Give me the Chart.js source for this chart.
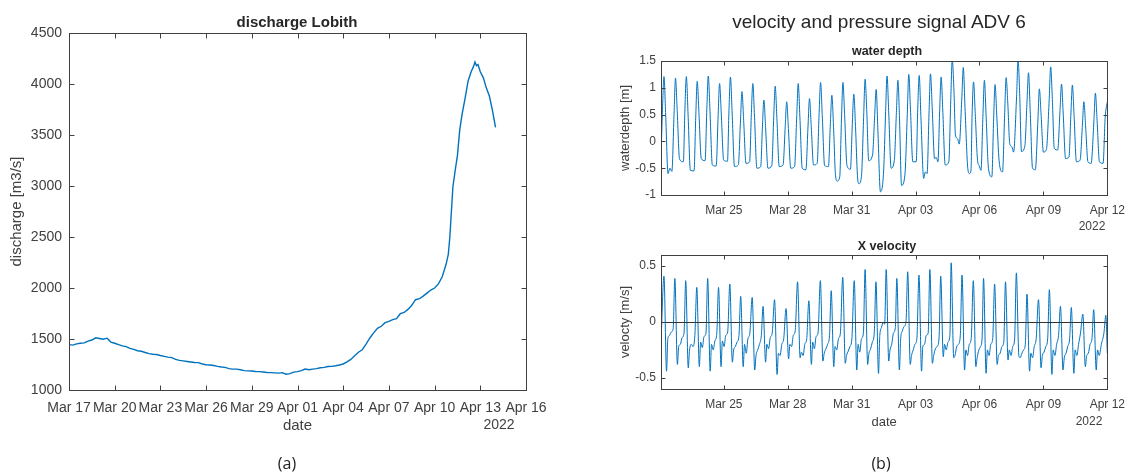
<!DOCTYPE html>
<html><head><meta charset="utf-8">
<script src="https://cdn.jsdelivr.net/npm/chart.js@4.4.1/dist/chart.umd.min.js"></script>
<style>
html,body{margin:0;padding:0;background:#fff;}
#wrap{position:relative;width:1133px;height:473px;overflow:hidden;font-family:'Liberation Sans',Arial,Helvetica,sans-serif;color:#262626;}
canvas{position:absolute;}
.t{position:absolute;white-space:nowrap;transform:translate(-50%,-50%);line-height:1;}
</style></head><body>
<div id="wrap">
<canvas id="c1" width="560" height="473" style="left:0;top:0"></canvas>
<canvas id="c2" width="553" height="235" style="left:580px;top:0"></canvas>
<canvas id="c3" width="553" height="238" style="left:580px;top:235px"></canvas>
<div class="t" style="left:297px;top:21px;font-weight:bold;font-size:15px;">discharge Lobith</div>
<div class="t" style="left:879px;top:21px;font-size:19px;">velocity and pressure signal ADV 6</div>
<div class="t" style="left:887px;top:51px;font-weight:bold;font-size:12.5px;">water depth</div>
<div class="t" style="left:887px;top:246px;font-weight:bold;font-size:12.5px;">X velocity</div>
<div class="t" style="left:499px;top:424px;font-size:14px;color:#404040;">2022</div>
<div class="t" style="left:1092px;top:226px;font-size:12px;color:#404040;">2022</div>
<div class="t" style="left:1089px;top:421px;font-size:12px;color:#404040;">2022</div>
<div class="t" style="left:287px;top:463px;font-size:16px;font-family:'Open Sans','Noto Sans',sans-serif;color:#222;">(a)</div>
<div class="t" style="left:881px;top:463px;font-size:16px;font-family:'Open Sans','Noto Sans',sans-serif;color:#222;">(b)</div>
</div>
<script>
// ---------- data ----------
// discharge Lobith: [days since Mar 17 2022, discharge m3/s]
const dischargeData = [
[0,1445],[0.25,1440],[0.5,1452],[0.75,1458],[1,1462],[1.25,1480],[1.5,1490],[1.75,1512],[2,1505],[2.25,1498],[2.5,1508],[2.75,1470],
[3,1458],[3.25,1445],[3.5,1432],[3.75,1425],[4,1408],[4.25,1398],[4.5,1385],[4.75,1380],[5,1368],[5.25,1356],[5.5,1350],[5.75,1348],
[6,1338],[6.25,1330],[6.5,1322],[6.75,1318],[7,1300],[7.25,1290],[7.5,1285],[7.75,1280],[8,1275],[8.25,1270],[8.5,1268],[8.75,1255],
[9,1248],[9.25,1245],[9.5,1240],[9.75,1232],[10,1225],[10.25,1222],[10.5,1210],[10.75,1205],[11,1205],[11.25,1198],[11.5,1190],[11.75,1188],
[12,1186],[12.25,1182],[12.5,1180],[12.75,1176],[13,1172],[13.25,1170],[13.5,1168],[13.75,1165],[14,1170],[14.25,1155],[14.5,1160],[14.75,1175],
[15,1180],[15.25,1190],[15.5,1205],[15.75,1198],[16,1205],[16.25,1210],[16.5,1218],[16.75,1222],[17,1230],[17.25,1232],[17.5,1238],[17.75,1245],
[18,1255],[18.25,1275],[18.5,1300],[18.75,1335],[19,1370],[19.25,1395],[19.5,1450],[19.75,1510],[20,1560],[20.25,1605],[20.5,1625],[20.75,1660],
[21,1672],[21.25,1690],[21.5,1700],[21.75,1748],[22,1760],[22.25,1790],[22.5,1830],[22.75,1885],[23,1895],[23.25,1920],[23.5,1950],[23.75,1980],
[24,2000],[24.25,2040],[24.5,2110],[24.75,2230],[24.9,2330],[25,2500],[25.2,2990],[25.35,3150],[25.5,3300],[25.65,3550],[25.8,3700],[26,3860],
[26.2,4030],[26.4,4120],[26.55,4170],[26.65,4215],[26.75,4180],[26.85,4190],[27,4120],[27.2,4060],[27.4,3960],[27.6,3880],[27.8,3740],[28,3575]
];
const dischargeTickDays = [0,3,6,9,12,15,18,21,24,27,30];
const dischargeTickLabels = ['Mar 17','Mar 20','Mar 23','Mar 26','Mar 29','Apr 01','Apr 04','Apr 07','Apr 10','Apr 13','Apr 16'];
const dischargeYTicks = [1000,1500,2000,2500,3000,3500,4000,4500];

// ADV 6 water depth: [days since Mar 22 2022, m]
const depthData = [
[0.05,-0.32],
[0.12,0.60],[0.19,1.21],[0.27,0.49],[0.38,-0.6],[0.47,-0.5],[0.56,-0.56],
[0.66,0.48],[0.73,1.18],[0.81,0.58],[0.92,-0.33],[1.1,-0.38],
[1.17,0.57],[1.24,1.21],[1.32,0.51],[1.43,-0.54],[1.6,-0.55],
[1.68,0.45],[1.75,1.12],[1.83,0.54],[1.94,-0.32],[2.12,-0.36],
[2.20,0.59],[2.27,1.22],[2.35,0.56],[2.46,-0.44],[2.64,-0.46],
[2.73,0.46],[2.80,1.08],[2.88,0.51],[2.99,-0.35],[3.17,-0.37],
[3.24,0.57],[3.31,1.20],[3.39,0.53],[3.50,-0.47],[3.68,-0.44],
[3.78,0.38],[3.85,0.93],[3.93,0.39],[4.04,-0.41],[4.21,-0.38],
[4.29,0.50],[4.36,1.08],[4.44,0.45],[4.55,-0.5],[4.73,-0.47],
[4.81,0.27],[4.88,0.77],[4.96,0.26],[5.07,-0.5],[5.25,-0.45],
[5.34,0.44],[5.41,1.03],[5.49,0.43],[5.60,-0.47],[5.78,-0.44],
[5.88,0.27],[5.95,0.74],[6.03,0.24],[6.14,-0.5],[6.32,-0.47],
[6.42,0.46],[6.49,1.08],[6.57,0.45],[6.68,-0.5],[6.85,-0.53],
[6.95,0.27],[7.02,0.80],[7.10,0.30],[7.21,-0.44],[7.38,-0.41],
[7.47,0.50],[7.54,1.10],[7.62,0.48],[7.73,-0.45],[7.91,-0.47],
[8.00,0.33],[8.07,0.86],[8.15,0.26],[8.24,-0.63],[8.32,-0.74],[8.44,-0.66],
[8.52,0.40],[8.59,1.10],[8.67,0.48],[8.78,-0.45],[8.94,-0.52],
[9.03,0.32],[9.10,0.88],[9.18,0.28],[9.27,-0.63],[9.34,-0.79],[9.46,-0.65],
[9.56,0.44],[9.63,1.16],[9.71,0.55],[9.80,-0.36],[9.98,-0.25],
[10.08,0.48],[10.15,0.97],[10.23,0.21],[10.35,-0.94],[10.5,-0.55],
[10.59,0.51],[10.66,1.22],[10.74,0.53],[10.85,-0.5],[11.0,-0.36],
[11.10,0.54],[11.17,1.14],[11.25,0.36],[11.34,-0.82],[11.5,-0.62],
[11.61,0.50],[11.68,1.25],[11.76,0.60],[11.87,-0.38],[12.03,-0.38],
[12.10,0.59],[12.17,1.23],[12.25,0.46],[12.38,-0.69],[12.46,-0.57],[12.54,-0.6],
[12.63,0.52],[12.70,1.26],[12.78,0.63],[12.89,-0.32],[12.97,-0.3],[13.05,-0.38],
[13.13,0.57],[13.20,1.20],[13.28,0.54],[13.39,-0.44],[13.56,-0.38],
[13.65,0.76],[13.72,1.52],[13.80,0.96],[13.87,0.12],[13.97,0.05],[14.05,-0.05],
[14.17,0.81],[14.24,1.38],[14.32,0.63],[14.45,-0.5],[14.53,-0.6],[14.6,-0.55],
[14.65,0.45],[14.72,1.11],[14.80,0.52],[14.91,-0.36],[14.98,-0.45],[15.07,-0.54],
[15.16,0.47],[15.23,1.14],[15.31,0.48],[15.42,-0.5],[15.58,-0.66],
[15.66,0.37],[15.73,1.06],[15.81,0.49],[15.92,-0.36],[16.08,-0.57],
[16.18,0.49],[16.25,1.19],[16.33,0.70],[16.42,-0.04],[16.52,-0.1],[16.6,-0.2],
[16.74,0.83],[16.81,1.52],[16.89,0.84],[16.97,-0.19],[17.13,-0.08],
[17.23,0.74],[17.30,1.28],[17.38,0.57],[17.49,-0.5],[17.62,-0.53],
[17.74,0.38],[17.81,0.98],[17.89,0.51],[18.0,-0.2],[18.14,-0.15],
[18.27,0.77],[18.34,1.39],[18.42,0.78],[18.51,-0.13],[18.67,-0.16],
[18.78,0.58],[18.85,1.07],[18.93,0.51],[19.04,-0.32],[19.2,-0.29],
[19.29,0.51],[19.36,1.05],[19.44,0.48],[19.55,-0.38],[19.72,-0.35],
[19.83,0.30],[19.90,0.74],[19.98,0.29],[20.09,-0.38],[20.24,-0.41],
[20.37,0.38],[20.44,0.90],[20.52,0.39],[20.63,-0.38],[20.8,-0.41],
[20.9,0.45],[21.0,0.74]
];

// ADV 6 X velocity: [days since Mar 22 2022, m/s]
const velocityData = [
[0.05,-0.19],
[0.19,0.41],[0.31,-0.44],[0.37,-0.15],[0.45,-0.12],[0.53,-0.09],[0.62,-0.06],
[0.70,0.39],[0.82,-0.38],[0.88,-0.22],[0.96,-0.2],[1.04,-0.14],[1.13,-0.1],
[1.21,0.37],[1.33,-0.41],[1.39,-0.25],[1.47,-0.2],[1.55,-0.22],[1.64,-0.12],
[1.73,0.31],[1.85,-0.40],[1.91,-0.18],[1.99,-0.23],[2.07,-0.13],[2.16,-0.1],
[2.24,0.39],[2.36,-0.44],[2.42,-0.2],[2.50,-0.25],[2.58,-0.17],[2.67,-0.1],
[2.75,0.31],[2.87,-0.40],[2.93,-0.17],[3.01,-0.22],[3.09,-0.12],[3.18,-0.09],
[3.28,0.34],[3.40,-0.36],[3.46,-0.25],[3.54,-0.22],[3.62,-0.18],[3.71,-0.12],
[3.79,0.23],[3.91,-0.40],[3.97,-0.2],[4.05,-0.28],[4.13,-0.15],[4.22,-0.1],
[4.33,0.22],[4.45,-0.43],[4.51,-0.3],[4.59,-0.25],[4.67,-0.2],[4.76,-0.12],
[4.84,0.14],[4.96,-0.36],[5.02,-0.2],[5.10,-0.24],[5.18,-0.14],[5.27,-0.1],
[5.38,0.20],[5.50,-0.47],[5.56,-0.28],[5.64,-0.3],[5.72,-0.2],[5.81,-0.15],
[5.92,0.12],[6.04,-0.33],[6.10,-0.2],[6.18,-0.22],[6.26,-0.12],[6.35,-0.08],
[6.46,0.36],[6.58,-0.32],[6.64,-0.27],[6.72,-0.3],[6.80,-0.2],[6.89,-0.15],
[6.99,0.19],[7.11,-0.38],[7.17,-0.18],[7.25,-0.24],[7.33,-0.13],[7.42,-0.1],
[7.53,0.37],[7.65,-0.35],[7.71,-0.28],[7.79,-0.24],[7.87,-0.2],[7.96,-0.12],
[8.04,0.28],[8.16,-0.40],[8.22,-0.22],[8.30,-0.25],[8.38,-0.15],[8.47,-0.1],
[8.58,0.40],[8.70,-0.37],[8.76,-0.3],[8.84,-0.26],[8.92,-0.22],[9.01,-0.15],
[9.12,0.37],[9.24,-0.43],[9.30,-0.2],[9.38,-0.27],[9.46,-0.15],[9.55,-0.1],
[9.63,0.47],[9.75,-0.38],[9.81,-0.28],[9.89,-0.24],[9.97,-0.18],[10.06,-0.1],
[10.14,0.36],[10.26,-0.46],[10.32,-0.12],[10.40,-0.05],[10.48,0.0],[10.55,-0.02],
[10.62,0.47],[10.74,-0.35],[10.80,-0.25],[10.88,-0.2],[10.96,-0.1],[11.05,-0.05],
[11.12,0.39],[11.24,-0.43],[11.30,-0.15],[11.38,-0.08],[11.46,-0.04],[11.55,0.0],
[11.63,0.45],[11.75,-0.38],[11.81,-0.3],[11.89,-0.25],[11.97,-0.2],[12.06,-0.15],
[12.16,0.42],[12.28,-0.44],[12.34,-0.22],[12.42,-0.2],[12.50,-0.12],[12.59,-0.1],
[12.67,0.47],[12.79,-0.37],[12.85,-0.3],[12.93,-0.24],[13.01,-0.22],[13.10,-0.15],
[13.18,0.41],[13.30,-0.31],[13.36,-0.2],[13.44,-0.25],[13.52,-0.18],[13.61,-0.12],
[13.67,0.53],[13.79,-0.32],[13.85,-0.3],[13.93,-0.22],[14.01,-0.2],[14.10,-0.12],
[14.18,0.42],[14.30,-0.43],[14.36,-0.25],[14.44,-0.3],[14.52,-0.2],[14.61,-0.15],
[14.71,0.37],[14.83,-0.40],[14.89,-0.32],[14.97,-0.25],[15.05,-0.22],[15.12,-0.15],
[15.19,0.39],[15.31,-0.46],[15.37,-0.25],[15.45,-0.3],[15.53,-0.2],[15.62,-0.15],
[15.71,0.34],[15.83,-0.38],[15.89,-0.3],[15.97,-0.28],[16.05,-0.22],[16.14,-0.18],
[16.22,0.36],[16.34,-0.34],[16.40,-0.25],[16.48,-0.3],[16.56,-0.22],[16.65,-0.15],
[16.73,0.44],[16.85,-0.31],[16.91,-0.32],[16.99,-0.28],[17.07,-0.25],[17.15,-0.2],
[17.23,0.25],[17.35,-0.44],[17.41,-0.28],[17.49,-0.32],[17.57,-0.22],[17.66,-0.15],
[17.77,0.20],[17.89,-0.41],[17.95,-0.3],[18.03,-0.27],[18.11,-0.22],[18.20,-0.15],
[18.28,0.29],[18.40,-0.47],[18.46,-0.25],[18.54,-0.3],[18.62,-0.2],[18.71,-0.12],
[18.80,0.14],[18.92,-0.43],[18.98,-0.32],[19.06,-0.28],[19.14,-0.22],[19.23,-0.15],
[19.31,0.13],[19.43,-0.46],[19.49,-0.25],[19.57,-0.3],[19.65,-0.2],[19.74,-0.1],
[19.85,0.07],[19.97,-0.40],[20.03,-0.3],[20.11,-0.28],[20.19,-0.2],[20.28,-0.15],
[20.36,0.11],[20.48,-0.43],[20.54,-0.25],[20.62,-0.3],[20.72,-0.2],[20.84,-0.1],
[20.93,0.06],[21.0,-0.28]
];
const advTickDays = [3,6,9,12,15,18,21];
const advTickLabels = ['Mar 25','Mar 28','Mar 31','Apr 03','Apr 06','Apr 09','Apr 12'];
const depthYTicks = [-1,-0.5,0,0.5,1,1.5];
const velocityYTicks = [-0.5,0,0.5];

// ---------- rendering ----------
const F = "'Liberation Sans', Arial, Helvetica, sans-serif";
const LINE = '#0072BD';
const TXT = '#404040';

const boxPlugin = {
  id: 'box',
  afterDatasetsDraw(chart, args, opts) {
    const {ctx, chartArea: a, scales: {x, y}} = chart;
    ctx.save();
    if (opts.zero) {
      const py = Math.round(y.getPixelForValue(0)) + 0.5;
      ctx.strokeStyle = '#333'; ctx.lineWidth = 1;
      ctx.beginPath(); ctx.moveTo(a.left, py); ctx.lineTo(a.right, py); ctx.stroke();
    }
    ctx.strokeStyle = '#404040'; ctx.lineWidth = 1;
    const l = Math.round(a.left) + 0.5, r = Math.round(a.right) + 0.5, t = Math.round(a.top) + 0.5, b = Math.round(a.bottom) + 0.5;
    ctx.strokeRect(l, t, r - l, b - t);
    const L = opts.len;
    ctx.beginPath();
    x.ticks.forEach(tk => {
      const px = Math.round(x.getPixelForValue(tk.value)) + 0.5;
      ctx.moveTo(px, b); ctx.lineTo(px, b - L);
      ctx.moveTo(px, t); ctx.lineTo(px, t + L);
    });
    y.ticks.forEach(tk => {
      const py = Math.round(y.getPixelForValue(tk.value)) + 0.5;
      ctx.moveTo(l, py); ctx.lineTo(l + L, py);
      ctx.moveTo(r, py); ctx.lineTo(r - L, py);
    });
    ctx.stroke();
    ctx.restore();
  }
};

function toXY(arr) { return arr.map(p => ({x: p[0], y: p[1]})); }

function makeChart(id, cfg) {
  return new Chart(document.getElementById(id), {
    type: 'line',
    data: {datasets: [{
      data: toXY(cfg.data), borderColor: LINE, borderWidth: cfg.bw, pointRadius: 0,
      tension: cfg.smooth ? 0.4 : 0, cubicInterpolationMode: cfg.smooth ? 'monotone' : 'default', fill: false
    }]},
    plugins: [boxPlugin],
    options: {
      responsive: false, animation: false, events: [],
      layout: {padding: cfg.pad},
      plugins: {legend: {display: false}, tooltip: {enabled: false}, title: {display: false},
                box: {len: cfg.tickLen, zero: !!cfg.zero}},
      scales: {
        x: {
          type: 'linear', min: cfg.xmin, max: cfg.xmax,
          grid: {display: false, drawTicks: false}, border: {display: false},
          afterBuildTicks: s => { s.ticks = cfg.xTicks.map(v => ({value: v})); },
          ticks: {autoSkip: false, maxRotation: 0, minRotation: 0, padding: cfg.xPad, color: TXT,
                  font: {size: cfg.tickFont, family: F},
                  callback: (v) => cfg.xLabels[cfg.xTicks.indexOf(v)]},
          title: {display: !!cfg.xTitle, text: cfg.xTitle || '', color: TXT,
                  font: {size: cfg.labFont, family: F}, padding: {top: 0, bottom: cfg.xTitlePad}},
          afterFit: s => { s.height = cfg.xH; }
        },
        y: {
          type: 'linear', min: cfg.ymin, max: cfg.ymax,
          grid: {display: false, drawTicks: false}, border: {display: false},
          afterBuildTicks: s => { s.ticks = cfg.yTicks.map(v => ({value: v})); },
          ticks: {padding: cfg.yPad, color: TXT, font: {size: cfg.tickFont, family: F},
                  callback: v => String(v)},
          title: {display: true, text: cfg.yTitle, color: TXT,
                  font: {size: cfg.labFont, family: F}, padding: {top: cfg.yTitlePad, bottom: 0}},
          afterFit: s => { s.width = cfg.yW; }
        }
      }
    }
  });
}

makeChart('c1', {
  data: dischargeData, bw: 1.4, smooth: false,
  pad: {left: 0, right: 34, top: 33, bottom: 0},
  xmin: 0, xmax: 30, xTicks: dischargeTickDays, xLabels: dischargeTickLabels,
  ymin: 1000, ymax: 4500, yTicks: dischargeYTicks,
  tickFont: 14, labFont: 15, xPad: 10, yPad: 7, xH: 83, yW: 69,
  xTitle: 'date', xTitlePad: 38, yTitle: 'discharge [m3/s]', yTitlePad: 8, tickLen: 5
});

makeChart('c2', {
  data: depthData, bw: 1, smooth: true,
  pad: {left: 0, right: 20, top: 61, bottom: 0},
  xmin: 0.05, xmax: 21, xTicks: advTickDays, xLabels: advTickLabels,
  ymin: -1, ymax: 1.5, yTicks: depthYTicks,
  tickFont: 12, labFont: 13, xPad: 8, yPad: 5, xH: 40, yW: 81,
  xTitle: '', xTitlePad: 0, yTitle: 'waterdepth [m]', yTitlePad: 38, tickLen: 4
});

makeChart('c3', {
  data: velocityData, bw: 1, smooth: true, zero: true,
  pad: {left: 0, right: 20, top: 20, bottom: 0},
  xmin: 0.05, xmax: 21, xTicks: advTickDays, xLabels: advTickLabels,
  ymin: -0.6, ymax: 0.6, yTicks: velocityYTicks,
  tickFont: 12, labFont: 13, xPad: 8, yPad: 5, xH: 84, yW: 81,
  xTitle: 'date', xTitlePad: 43, yTitle: 'velocty [m/s]', yTitlePad: 38, tickLen: 4
});
</script>
</body></html>
